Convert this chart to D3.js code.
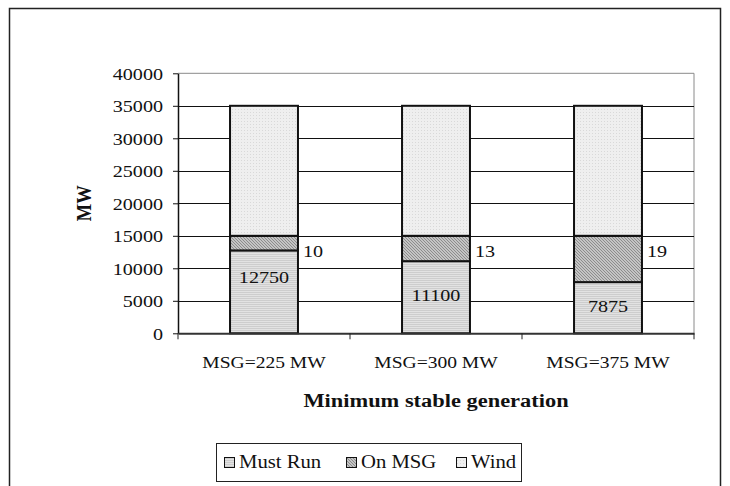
<!DOCTYPE html>
<html>
<head>
<meta charset="utf-8">
<script src="https://cdn.jsdelivr.net/npm/d3@7"></script>
<style>
  html, body { margin: 0; padding: 0; background: #fff; }
  svg { display: block; }
  text { font-family: "Liberation Serif", "Times New Roman", serif; fill: #111; }
</style>
</head>
<body>
<svg id="chart" width="730" height="486"></svg>
<script>
// Generation mix for three minimum stable generation (MSG) settings
const categories = ["MSG=225 MW", "MSG=300 MW", "MSG=375 MW"];
const msgUnitSize = [225, 300, 375];      // MW per unit running at MSG
const mustRun = [12750, 11100, 7875];     // MW
const onMsgUnits = [10, 13, 19];          // number of units on MSG
const wind = [20000, 20000, 20000];       // MW
const seriesNames = ["Must Run", "On MSG", "Wind"];
const yTicks = [0, 5000, 10000, 15000, 20000, 25000, 30000, 35000, 40000];

const rows = categories.map((c, i) => ({
  category: c,
  "Must Run": mustRun[i],
  "On MSG": onMsgUnits[i] * msgUnitSize[i],
  "Wind": wind[i]
}));

const svg = d3.select("#chart");
const SX = 1.15; // horizontal text stretch

// Patterned fills
const defs = svg.append("defs");
const pMust = defs.append("pattern").attr("id", "p-must").attr("patternUnits", "userSpaceOnUse")
  .attr("width", 4).attr("height", 2);
pMust.append("rect").attr("width", 4).attr("height", 2).attr("fill", "#e2e2e2");
pMust.append("rect").attr("width", 4).attr("height", 1).attr("fill", "#cdcdcd");

const pMsg = defs.append("pattern").attr("id", "p-msg").attr("patternUnits", "userSpaceOnUse")
  .attr("width", 3).attr("height", 3);
pMsg.append("rect").attr("width", 3).attr("height", 3).attr("fill", "#c4c4c4");
pMsg.append("rect").attr("x", 0).attr("y", 0).attr("width", 1).attr("height", 1).attr("fill", "#8c8c8c");
pMsg.append("rect").attr("x", 1).attr("y", 1).attr("width", 1).attr("height", 1).attr("fill", "#8c8c8c");
pMsg.append("rect").attr("x", 2).attr("y", 2).attr("width", 1).attr("height", 1).attr("fill", "#8c8c8c");

const pWind = defs.append("pattern").attr("id", "p-wind").attr("patternUnits", "userSpaceOnUse")
  .attr("width", 3).attr("height", 3);
pWind.append("rect").attr("width", 3).attr("height", 3).attr("fill", "#efefef");
pWind.append("rect").attr("x", 1).attr("y", 1).attr("width", 1).attr("height", 1).attr("fill", "#d9d9d9");

const fills = { "Must Run": "url(#p-must)", "On MSG": "url(#p-msg)", "Wind": "url(#p-wind)" };

// Outer chart frame (bottom edge runs off the page)
svg.append("path")
  .attr("d", "M9.5,490 V8.5 H720.5 V490")
  .attr("fill", "none").attr("stroke", "#222").attr("stroke-width", 1.5);

const plot = { left: 178, right: 694, top: 73.3, bottom: 333.3 };

const x = d3.scaleBand().domain(categories)
  .range([plot.left, plot.right]).paddingInner(0.605).paddingOuter(0.3025);
const y = d3.scaleLinear().domain([0, 40000]).range([plot.bottom, plot.top]);

// helper: stretched text placed at (px, py)
function stretchedText(sel, px, py, str, opts) {
  const g = sel.append("g").attr("transform", `translate(${px},${py}) scale(${SX},1)`);
  const t = g.append("text").text(str)
    .attr("text-anchor", opts.anchor || "start")
    .attr("font-size", opts.size || 17.5)
    .attr("font-weight", opts.weight || "normal");
  if (opts.baseline) t.attr("dominant-baseline", opts.baseline);
  return t;
}

// Plot-area border (top & right) and gridlines
svg.append("path")
  .attr("d", `M${plot.left},${plot.top} H${plot.right} V${plot.bottom}`)
  .attr("fill", "none").attr("stroke", "#8a8a8a").attr("stroke-width", 1);
svg.append("g").selectAll("line")
  .data(yTicks.filter(v => v > 0 && v < 40000))
  .join("line")
  .attr("x1", plot.left).attr("x2", plot.right)
  .attr("y1", d => Math.round(y(d)) + 0.5).attr("y2", d => Math.round(y(d)) + 0.5)
  .attr("stroke", "#111").attr("stroke-width", 1);

// Stacked bars
const stack = d3.stack().keys(seriesNames)(rows);
const layers = svg.append("g").selectAll("g")
  .data(stack).join("g")
  .attr("fill", d => fills[d.key]);
layers.selectAll("rect")
  .data(d => d.map(v => ({ v, cat: v.data.category })))
  .join("rect")
  .attr("x", d => x(d.cat))
  .attr("width", x.bandwidth())
  .attr("y", d => y(d.v[1]))
  .attr("height", d => y(d.v[0]) - y(d.v[1]))
  .attr("stroke", "#111").attr("stroke-width", 2);

// Y axis
const yAxis = svg.append("g")
  .attr("transform", `translate(${plot.left},0)`)
  .call(d3.axisLeft(y).tickValues(yTicks).tickSize(5).tickSizeOuter(0).tickFormat(d3.format("d")));
yAxis.select(".domain").attr("stroke", "#111").attr("stroke-width", 1.5);
yAxis.selectAll(".tick line").attr("stroke", "#111").attr("stroke-width", 1);
yAxis.selectAll(".tick text").remove();
yAxis.selectAll(".tick").each(function (d) {
  stretchedText(d3.select(this), -15, 0, d3.format("d")(d),
    { anchor: "end", size: 17.5, baseline: "central" });
});

// X axis
const xAxis = svg.append("g")
  .attr("transform", `translate(0,${plot.bottom})`)
  .call(d3.axisBottom(x).tickSize(0).tickSizeOuter(0));
xAxis.select(".domain").attr("stroke", "#333").attr("stroke-width", 2);
xAxis.selectAll(".tick text").remove();
// category separators
const sepX = [plot.left].concat(categories.map(c => x(c) + x.bandwidth() / 2 + x.step() / 2));
xAxis.selectAll("line.sep").data(sepX).join("line").attr("class", "sep")
  .attr("x1", d => d).attr("x2", d => d).attr("y1", 0).attr("y2", 6)
  .attr("stroke", "#222").attr("stroke-width", 1);
categories.forEach(c => {
  stretchedText(svg, x(c) + x.bandwidth() / 2, 368, c, { anchor: "middle", size: 17 });
});

// Axis titles
stretchedText(svg, (plot.left + plot.right) / 2, 407, "Minimum stable generation",
  { anchor: "middle", size: 19.5, weight: "bold" });
svg.append("g")
  .attr("transform", `translate(91,${(plot.top + plot.bottom) / 2}) rotate(-90) scale(1,${SX})`)
  .append("text").text("MW")
  .attr("text-anchor", "middle").attr("font-size", 18.5).attr("font-weight", "bold");

// Value labels: Must Run inside bars, units on MSG beside bars
const mustLabelShift = [-15, -2, -2];
categories.forEach((c, i) => {
  const cx = x(c) + x.bandwidth() / 2;
  stretchedText(svg, cx, y(mustRun[i] / 2) + mustLabelShift[i], d3.format("d")(mustRun[i]),
    { anchor: "middle", size: 17.5, baseline: "central" });
  stretchedText(svg, x(c) + x.bandwidth() + 5, y(12600), String(onMsgUnits[i]),
    { anchor: "start", size: 17.5, baseline: "central" });
});

// Legend
const legend = svg.append("g");
legend.append("rect")
  .attr("x", 216.5).attr("y", 443.5).attr("width", 305).attr("height", 38)
  .attr("fill", "#fff").attr("stroke", "#222").attr("stroke-width", 1);
const legendX = [224, 346, 456];
seriesNames.forEach((name, i) => {
  legend.append("rect")
    .attr("x", legendX[i] + 0.5).attr("y", 457.5).attr("width", 10).attr("height", 10)
    .attr("fill", fills[name]).attr("stroke", "#111").attr("stroke-width", 1);
  stretchedText(legend, legendX[i] + 15, 467.5, name, { anchor: "start", size: 18 });
});
</script>
</body>
</html>
